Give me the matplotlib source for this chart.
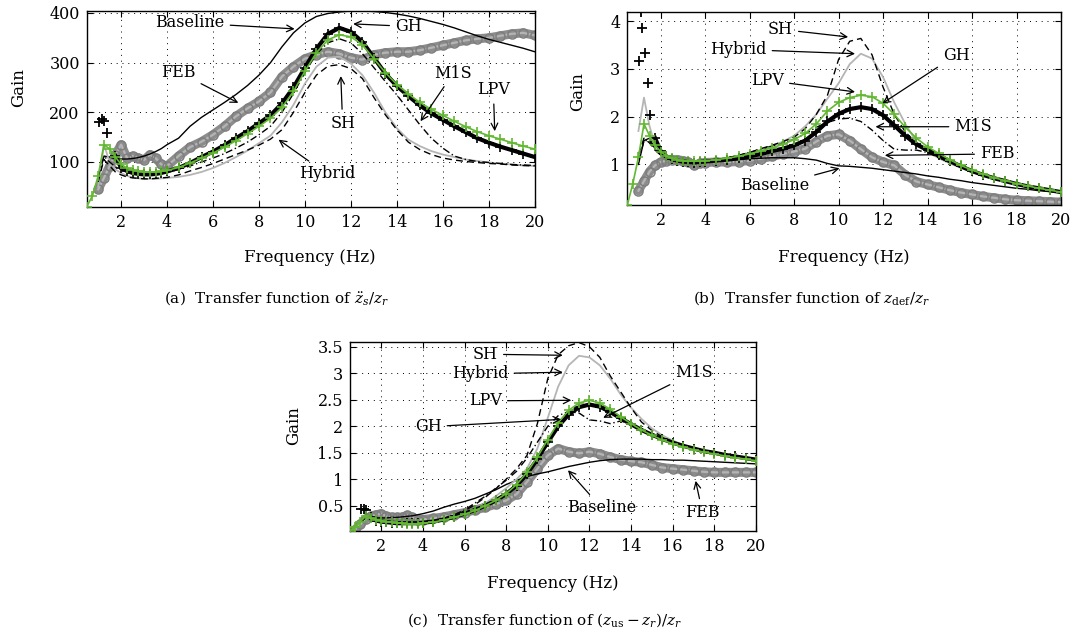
import numpy as np
import matplotlib
matplotlib.use("Agg")
import matplotlib.pyplot as plt
from matplotlib.ticker import FuncFormatter

nan = float("nan")

# frequency grid (Hz)
freq = [0.5, 0.75, 1.0, 1.25, 1.5, 1.75, 2.0, 2.25, 2.5, 2.75, 3.0, 3.25, 3.5, 3.75,
        4.0, 4.5, 5.0, 5.5, 6.0, 6.5, 7.0, 7.5, 8.0, 8.5, 9.0, 9.5, 10.0, 10.5, 11.0,
        11.5, 12.0, 12.5, 13.0, 13.5, 14.0, 14.5, 15.0, 15.5, 16.0, 16.5, 17.0, 17.5,
        18.0, 18.5, 19.0, 19.5, 20.0]

# ---- (a) sprung-mass acceleration ----
a_baseline = [nan, nan, 65, 112, 110, 106, 106, 106, 107, 109, 112, 116, 121, 127,
              135, 148, 172, 190, 205, 220, 236, 254, 275, 300, 332, 360, 380, 393, 399,
              402, 404, 404, 403, 401, 398, 394, 389, 383, 377, 370, 362, 354,
              347, 341, 335, 329, 322]
a_feb = [nan, nan, 45, 68, 92, 115, 135, 108, 112, 108, 104, 115, 108, 95,
         92, 112, 130, 141, 155, 172, 192, 208, 222, 240, 272, 292, 308, 316, 322,
         318, 310, 306, 316, 320, 322, 322, 325, 330, 335, 340, 345, 348,
         350, 354, 358, 360, 355]
a_gh = [nan, nan, nan, nan, nan, 112, 88, 82, 78, 76, 75, 75, 76, 78,
        81, 88, 98, 110, 121, 134, 148, 162, 178, 194, 218, 250, 290, 328, 358,
        370, 362, 342, 310, 278, 253, 233, 214, 198, 185, 172, 160, 148,
        139, 131, 124, 117, 110]
a_gh_spike_f = [1.05, 1.15, 1.25, 1.4]
a_gh_spike_v = [180, 186, 183, 158]
a_lpv = [10, 32, 72, 135, 126, 110, 95, 88, 84, 82, 80, 80, 80, 81,
         83, 89, 98, 108, 118, 130, 143, 157, 172, 188, 210, 242, 283, 320, 346,
         356, 352, 336, 308, 280, 256, 237, 220, 206, 194, 182, 171, 161,
         153, 146, 139, 132, 126]
a_hybrid = [nan, nan, 50, 135, 100, 85, 78, 72, 69, 67, 66, 66, 66, 67,
            68, 70, 74, 80, 88, 98, 110, 123, 138, 153, 180, 215, 258, 292, 310,
            312, 298, 275, 240, 200, 168, 145, 132, 122, 115, 110, 105, 102,
            99, 97, 95, 93, 92]
a_sh = [nan, nan, 60, 105, 92, 80, 74, 70, 68, 67, 66, 66, 67, 68,
        69, 74, 82, 89, 97, 106, 115, 124, 134, 146, 165, 200, 240, 275, 293,
        296, 288, 268, 230, 195, 165, 140, 125, 115, 108, 104, 101, 99,
        97, 96, 94, 93, 92]
a_m1s = [nan, nan, 70, 112, 100, 90, 85, 80, 77, 75, 74, 74, 75, 77,
         79, 85, 92, 100, 108, 117, 128, 140, 155, 172, 200, 238, 280, 318, 340,
         348, 340, 318, 290, 262, 235, 205, 175, 148, 128, 112, 105, 101,
         99, 97, 95, 94, 93]

# ---- (b) suspension deflection ----
b_baseline = [nan, nan, 1.0, 1.5, 1.55, 1.32, 1.2, 1.15, 1.12, 1.1, 1.08, 1.07, 1.07, 1.07,
              1.07, 1.08, 1.09, 1.1, 1.12, 1.13, 1.14, 1.14, 1.14, 1.12, 1.09, 1.02, 0.97, 0.96, 0.94,
              0.92, 0.89, 0.86, 0.83, 0.8, 0.76, 0.73, 0.69, 0.66, 0.62, 0.59, 0.56, 0.53,
              0.5, 0.48, 0.45, 0.43, 0.41]
b_feb = [nan, nan, 0.45, 0.65, 0.85, 0.98, 1.05, 1.08, 1.1, 1.1, 1.08, 1.05, 0.98, 1.02,
         1.04, 1.05, 1.05, 1.06, 1.08, 1.12, 1.17, 1.22, 1.27, 1.33, 1.48, 1.6, 1.63, 1.5, 1.32,
         1.15, 1.05, 0.98, 0.78, 0.64, 0.58, 0.52, 0.46, 0.41, 0.37, 0.33, 0.3, 0.27,
         0.25, 0.24, 0.23, 0.22, 0.21]
b_gh = [nan, nan, nan, nan, nan, 1.55, 1.28, 1.17, 1.11, 1.08, 1.06, 1.05, 1.04, 1.05,
        1.06, 1.08, 1.1, 1.13, 1.17, 1.22, 1.28, 1.33, 1.4, 1.5, 1.68, 1.9, 2.06, 2.16, 2.2,
        2.16, 2.03, 1.82, 1.6, 1.42, 1.3, 1.19, 1.07, 0.96, 0.86, 0.78, 0.71, 0.65,
        0.59, 0.54, 0.5, 0.46, 0.42]
b_gh_spike_f = [1.02, 1.1, 1.17, 1.29, 1.44, 1.52]
b_gh_spike_v = [3.17, 4.19, 3.85, 3.33, 2.71, 2.03]
b_lpv = [0.15, 0.6, 1.15, 1.85, 1.6, 1.4, 1.27, 1.18, 1.13, 1.1, 1.08, 1.07, 1.07, 1.07,
         1.08, 1.1, 1.13, 1.17, 1.22, 1.28, 1.35, 1.42, 1.52, 1.65, 1.85, 2.12, 2.3, 2.4, 2.45,
         2.42, 2.28, 2.05, 1.78, 1.55, 1.37, 1.23, 1.1, 0.98, 0.88, 0.8, 0.72, 0.66,
         0.6, 0.55, 0.5, 0.46, 0.42]
b_hybrid = [nan, nan, 1.7, 2.4, 1.8, 1.4, 1.25, 1.17, 1.12, 1.09, 1.07, 1.06, 1.06, 1.06,
            1.07, 1.09, 1.13, 1.18, 1.24, 1.31, 1.39, 1.48, 1.6, 1.8, 2.05, 2.38, 2.7, 3.1, 3.32,
            3.22, 2.83, 2.3, 1.85, 1.47, 1.27, 1.13, 1.02, 0.93, 0.85, 0.77, 0.7, 0.64,
            0.58, 0.53, 0.49, 0.45, 0.41]
b_sh = [nan, nan, 1.2, 1.55, 1.45, 1.3, 1.2, 1.14, 1.1, 1.08, 1.06, 1.05, 1.05, 1.06,
        1.07, 1.1, 1.14, 1.19, 1.25, 1.33, 1.4, 1.48, 1.57, 1.75, 2.05, 2.45, 3.2, 3.58, 3.64,
        3.3, 2.62, 2.05, 1.68, 1.45, 1.28, 1.15, 1.04, 0.95, 0.86, 0.78, 0.71, 0.65,
        0.59, 0.54, 0.5, 0.46, 0.42]
b_m1s = [nan, nan, 1.05, 1.5, 1.5, 1.3, 1.2, 1.14, 1.1, 1.08, 1.06, 1.05, 1.05, 1.06,
         1.07, 1.1, 1.14, 1.19, 1.25, 1.32, 1.38, 1.45, 1.53, 1.64, 1.78, 1.88, 1.95, 1.97, 1.9,
         1.72, 1.5, 1.32, 1.3, 1.3, 1.25, 1.14, 1.04, 0.95, 0.86, 0.78, 0.71, 0.65,
         0.59, 0.54, 0.5, 0.46, 0.42]

# ---- (c) tyre deflection ----
c_baseline = [nan, nan, 0.2, 0.27, 0.27, 0.27, 0.27, 0.27, 0.28, 0.28, 0.29, 0.3, 0.31, 0.33,
              0.35, 0.4, 0.47, 0.53, 0.58, 0.64, 0.72, 0.8, 0.9, 0.98, 1.05, 1.1, 1.14, 1.19, 1.24,
              1.28, 1.32, 1.35, 1.37, 1.38, 1.38, 1.38, 1.37, 1.37, 1.36, 1.36, 1.35, 1.34,
              1.33, 1.32, 1.31, 1.3, 1.29]
c_feb = [nan, 0.05, 0.15, 0.25, 0.3, 0.33, 0.35, 0.3, 0.28, 0.28, 0.28, 0.32, 0.28, 0.24,
         0.24, 0.26, 0.29, 0.33, 0.37, 0.42, 0.47, 0.53, 0.6, 0.72, 0.95, 1.2, 1.45, 1.58, 1.52,
         1.49, 1.52, 1.48, 1.42, 1.37, 1.34, 1.32, 1.27, 1.22, 1.2, 1.18, 1.16, 1.14,
         1.13, 1.13, 1.13, 1.13, 1.13]
c_gh = [nan, nan, nan, nan, 0.28, 0.22, 0.2, 0.19, 0.18, 0.17, 0.17, 0.17, 0.17, 0.17,
        0.18, 0.2, 0.24, 0.29, 0.35, 0.42, 0.5, 0.6, 0.72, 0.88, 1.1, 1.38, 1.7, 2.0, 2.22,
        2.36, 2.41, 2.37, 2.27, 2.15, 2.04, 1.93, 1.84, 1.76, 1.69, 1.63, 1.58, 1.53,
        1.5, 1.46, 1.43, 1.4, 1.37]
c_gh_spike_f = [1.05, 1.15, 1.25]
c_gh_spike_v = [0.43, 0.44, 0.42]
c_lpv = [0.03, 0.1, 0.2, 0.3, 0.27, 0.24, 0.22, 0.2, 0.19, 0.18, 0.17, 0.16, 0.16, 0.16,
         0.17, 0.19, 0.23, 0.28, 0.34, 0.41, 0.5, 0.6, 0.73, 0.9, 1.13, 1.42, 1.75, 2.07, 2.3,
         2.44, 2.49, 2.44, 2.32, 2.18, 2.05, 1.93, 1.83, 1.74, 1.67, 1.61, 1.56, 1.51,
         1.48, 1.44, 1.41, 1.38, 1.35]
c_hybrid = [nan, nan, 0.2, 0.28, 0.25, 0.22, 0.2, 0.19, 0.18, 0.17, 0.17, 0.17, 0.17, 0.17,
            0.18, 0.2, 0.24, 0.29, 0.35, 0.44, 0.55, 0.68, 0.83, 1.0, 1.2, 1.58, 2.16, 2.75, 3.15,
            3.33, 3.3, 3.15, 2.9, 2.6, 2.35, 2.14, 1.96, 1.83, 1.73, 1.65, 1.58, 1.53,
            1.48, 1.44, 1.41, 1.38, 1.35]
c_sh = [nan, nan, 0.2, 0.27, 0.24, 0.21, 0.19, 0.18, 0.17, 0.16, 0.16, 0.16, 0.16, 0.17,
        0.18, 0.21, 0.26, 0.32, 0.4, 0.52, 0.66, 0.82, 1.0, 1.2, 1.45, 2.05, 2.9, 3.35, 3.52,
        3.58, 3.5, 3.3, 2.95, 2.65, 2.35, 2.08, 1.92, 1.8, 1.71, 1.63, 1.57, 1.52,
        1.48, 1.44, 1.41, 1.38, 1.35]
c_m1s = [nan, nan, 0.2, 0.27, 0.24, 0.21, 0.19, 0.18, 0.17, 0.16, 0.16, 0.16, 0.16, 0.17,
         0.18, 0.21, 0.26, 0.33, 0.42, 0.55, 0.68, 0.83, 0.98, 1.15, 1.4, 1.7, 2.0, 2.2, 2.28,
         2.25, 2.12, 2.1, 2.05, 2.1, 2.04, 1.93, 1.84, 1.76, 1.69, 1.63, 1.58, 1.53,
         1.5, 1.46, 1.43, 1.4, 1.37]

x_ticks = [2, 4, 6, 8, 10, 12, 14, 16, 18, 20]
a_yticks = [100, 200, 300, 400]
b_yticks = [1, 2, 3, 4]
c_yticks = [0.5, 1, 1.5, 2, 2.5, 3, 3.5]

# label text, label position, arrow tip (data coordinates)
a_notes = [("Baseline", (5.0, 380), (9.55, 368)),
           ("GH", (14.5, 373), (12.1, 378)),
           ("FEB", (4.5, 281), (7.1, 219)),
           ("SH", (11.64, 178), (11.56, 273)),
           ("Hybrid", (10.96, 76), (8.85, 145)),
           ("M1S", (16.46, 279), (15.03, 182)),
           ("LPV", (18.2, 245), (18.26, 162))]
b_notes = [("SH", (7.39, 3.83), (10.43, 3.67)),
           ("Hybrid", (5.5, 3.41), (10.74, 3.32)),
           ("LPV", (6.81, 2.76), (10.74, 2.52)),
           ("GH", (15.28, 3.29), (11.97, 2.28)),
           ("M1S", (16.05, 1.79), (11.66, 1.79)),
           ("FEB", (17.13, 1.22), (12.08, 1.19)),
           ("Baseline", (7.12, 0.55), (10.04, 0.92))]
c_notes = [("SH", (7.01, 3.36), (10.72, 3.34)),
           ("Hybrid", (6.77, 2.99), (10.72, 3.02)),
           ("LPV", (7.01, 2.48), (11.13, 2.49)),
           ("GH", (4.26, 1.99), (10.64, 2.13)),
           ("M1S", (17.02, 3.01), (12.66, 2.16)),
           ("Baseline", (12.58, 0.46), (10.97, 1.17)),
           ("FEB", (17.43, 0.37), (17.1, 0.97))]

plt.rcParams["font.family"] = ["DejaVu Serif"]
plt.rcParams["mathtext.fontset"] = "dejavuserif"

W, H = 1074, 635
fig = plt.figure(figsize=(W / 100, H / 100), dpi=100)


def box(l, t, r, b):
    return [l / W, 1 - b / H, (r - l) / W, (b - t) / H]


GREEN = "#62b832"


def panel(rect, base, feb, gh, spf, spv, lpv, hyb, sh, m1s, ylim, yticks, notes):
    ax = fig.add_axes(rect)
    f = np.array(freq)
    # FEB: thick ribbon of overlapping hollow circles
    ax.plot(f, feb, color="#8c8c8c", lw=6.5, solid_capstyle="round", zorder=2)
    ax.plot(f, feb, color="#b4b4b4", lw=1.6, zorder=2)
    ax.plot(f, feb, ls="none", marker="o", ms=6.5, mfc="none", mec="#7e7e7e",
            mew=1.1, zorder=2)
    ax.plot(f, base, color="k", lw=1.0, zorder=3)
    ax.plot(f, hyb, color="#b5b5b5", lw=1.3, zorder=3)
    ax.plot(f, sh, color="k", lw=1.0, ls=(0, (5, 3)), zorder=3)
    ax.plot(f, m1s, color="k", lw=1.0, ls=(0, (5, 2, 1, 2)), zorder=3)
    ax.plot(f, gh, color="k", lw=3.0, zorder=4)
    ax.plot(f, gh, ls="none", marker="+", ms=6.5, mew=1.2, color="k", zorder=4)
    ax.plot(spf, spv, ls="none", marker="+", ms=6.5, mew=1.3, color="k", zorder=4)
    ax.plot(f, lpv, color=GREEN, lw=1.2, zorder=5)
    ax.plot(f, lpv, ls="none", marker="+", ms=6.5, mew=1.2, color=GREEN, zorder=5)

    ax.set_xlim(0.5, 20)
    ax.set_ylim(*ylim)
    ax.set_xticks(x_ticks)
    ax.set_yticks(yticks)
    ax.yaxis.set_major_formatter(FuncFormatter(lambda v, p: "%g" % v))
    ax.grid(True, color="k", ls=(0, (1, 5)), lw=0.7)
    ax.set_axisbelow(True)
    ax.tick_params(direction="in", top=True, right=True, length=4, width=0.8,
                   labelsize=11.5, pad=5)
    for s in ax.spines.values():
        s.set_linewidth(1.0)
    for text, pos, tip in notes:
        ax.annotate(text, xy=tip, xytext=pos, ha="center", va="center",
                    fontsize=11.5, zorder=6,
                    arrowprops=dict(arrowstyle="->", color="k", lw=0.9,
                                    shrinkA=2, shrinkB=0, mutation_scale=12))
    return ax


panel(box(86.7, 11, 534.7, 206.7), a_baseline, a_feb, a_gh, a_gh_spike_f, a_gh_spike_v,
      a_lpv, a_hybrid, a_sh, a_m1s, (10, 404), a_yticks, a_notes)
panel(box(627.3, 11.7, 1061, 205), b_baseline, b_feb, b_gh, b_gh_spike_f, b_gh_spike_v,
      b_lpv, b_hybrid, b_sh, b_m1s, (0.15, 4.2), b_yticks, b_notes)
panel(box(350, 341.5, 756, 531), c_baseline, c_feb, c_gh, c_gh_spike_f, c_gh_spike_v,
      c_lpv, c_hybrid, c_sh, c_m1s, (0.023, 3.6), c_yticks, c_notes)


def ftext(x, y, s, **kw):
    fig.text(x / W, 1 - y / H, s, ha="center", va="center", **kw)


ftext(310, 257, "Frequency (Hz)", fontsize=12)
ftext(844, 257, "Frequency (Hz)", fontsize=12)
ftext(553, 584, "Frequency (Hz)", fontsize=12)
ftext(19, 88, "Gain", fontsize=12, rotation=90)
ftext(578, 92, "Gain", fontsize=12, rotation=90)
ftext(294, 426, "Gain", fontsize=12, rotation=90)
ftext(276, 298, r"(a)  Transfer function of $\ddot{z}_s/z_r$", fontsize=11)
ftext(812, 298, r"(b)  Transfer function of $z_{\mathrm{def}}/z_r$", fontsize=11)
ftext(545, 620, r"(c)  Transfer function of $(z_{\mathrm{us}}-z_r)/z_r$", fontsize=11)

fig.savefig("out.png", dpi=100)
